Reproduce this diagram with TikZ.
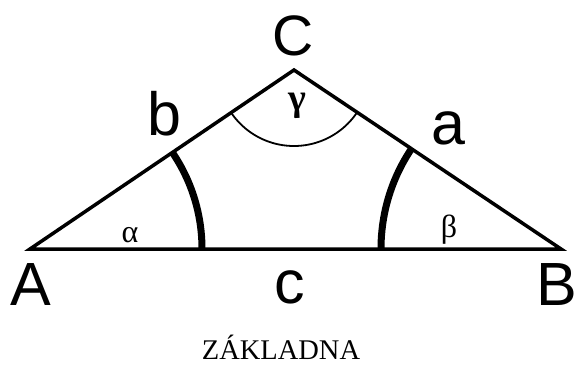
\documentclass[tikz,border=0pt]{standalone}
\usepackage{fontspec}
\setmainfont{Liberation Serif}
\newfontfamily\lsans{Liberation Sans}
\begin{document}
\begin{tikzpicture}[x=1pt,y=1pt,
  side/.style={line width=3.5pt,line join=miter},
  thickarc/.style={line width=7pt},
  thinarc/.style={line width=1.8pt},
  vlabel/.style={inner sep=0pt,font=\lsans\fontsize{61}{68}\selectfont},
  glabel/.style={inner sep=0pt,font=\fontsize{32}{36}\selectfont}]
\useasboundingbox (0,0) rectangle (576,365);
\coordinate (A) at (30,116);
\coordinate (B) at (561,116);
\coordinate (C) at (294,295);
\begin{scope}
  \clip (A) -- (B) -- (C) -- cycle;
  \draw[thickarc] (A) circle[radius=172];
  \draw[thickarc] (B) circle[radius=180];
  \draw[thinarc] (C) circle[radius=76];
\end{scope}
\draw[side] (A) -- (B) -- (C) -- cycle;
\node[vlabel] (lA) at (31,80) {A};
\node[vlabel] (lB) at (557,80) {B};
\node[vlabel,font=\lsans\fontsize{57}{64}\selectfont] (lC) at (293,329) {C};
\node[vlabel] (la) at (448,237) {a};
\node[vlabel] (lb) at (164,251) {b};
\node[vlabel] (lc) at (290,78) {c};
\node[glabel] (al) at (130,130) {α};
\node[glabel] (be) at (449,135) {β};
\node[glabel,font=\bfseries\fontsize{38}{42}\selectfont] (ga) at (297,259) {γ};
\node[inner sep=0pt,anchor=base,font=\fontsize{28.5}{32}\selectfont] (zak) at (281,6) {ZÁKLADNA};
\end{tikzpicture}
\end{document}
